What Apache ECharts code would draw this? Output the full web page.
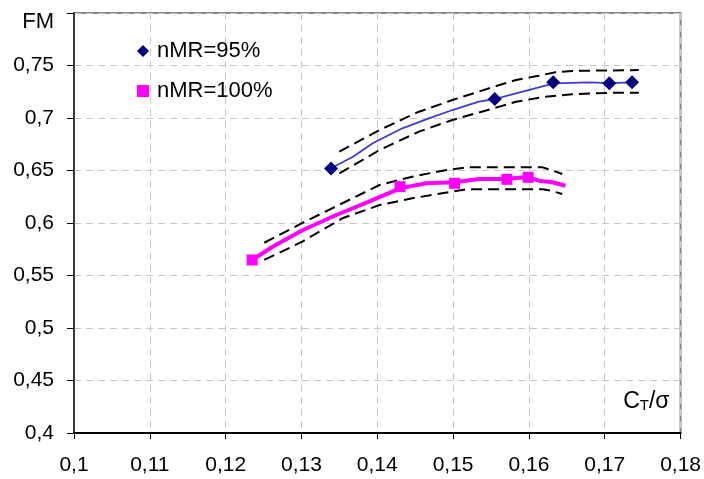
<!DOCTYPE html>
<html>
<head>
<meta charset="utf-8">
<script src="https://cdn.jsdelivr.net/npm/echarts@6/dist/echarts.min.js"></script>
<style>
  html, body { margin: 0; padding: 0; background: #fff; }
  #chart { width: 704px; height: 479px; }
</style>
</head>
<body>
<div id="chart"></div>
<script>
// Axis ranges and ticks
const xMin = 0.1, xMax = 0.18, xStep = 0.01;
const yMin = 0.4, yMax = 0.8, yStep = 0.05;

// nMR = 95 %: measured points, fitted curve and its band
const mr95Points = [[0.1339, 0.652], [0.1555, 0.718], [0.1632, 0.734], [0.1706, 0.733], [0.1736, 0.734]];
const mr95Curve = [
  [0.1339, 0.6521], [0.1368, 0.6631], [0.1394, 0.6759], [0.1433, 0.6902], [0.1468, 0.6997],
  [0.1499, 0.7076], [0.1534, 0.7155], [0.1555, 0.7181], [0.1578, 0.7226], [0.1633, 0.7330],
  [0.1679, 0.7340], [0.1707, 0.7333], [0.1736, 0.7340]
];
const mr95Upper = [
  [0.1350, 0.6679], [0.1403, 0.6886], [0.1455, 0.7060], [0.1499, 0.7171], [0.1561, 0.7314],
  [0.1583, 0.7362], [0.1613, 0.7403], [0.1635, 0.7435], [0.1657, 0.7448], [0.1745, 0.7457]
];
const mr95Lower = [
  [0.1350, 0.6473], [0.1403, 0.6695], [0.1455, 0.6870], [0.1499, 0.6981], [0.1561, 0.7108],
  [0.1583, 0.7155], [0.1622, 0.7203], [0.1657, 0.7226], [0.1710, 0.7241], [0.1745, 0.7241]
];

// nMR = 100 %: measured points, fitted curve and its band
const mr100Points = [[0.1235, 0.5648], [0.1430, 0.6346], [0.1502, 0.6378], [0.1571, 0.6416], [0.1599, 0.6435]];
const mr100Curve = [
  [0.1235, 0.5648], [0.1262, 0.5774], [0.1302, 0.5933], [0.1346, 0.6076], [0.1389, 0.6203],
  [0.1430, 0.6330], [0.1464, 0.6378], [0.1501, 0.6388], [0.1534, 0.6419], [0.1569, 0.6419],
  [0.1598, 0.6438], [0.1613, 0.6403], [0.1631, 0.6388], [0.1648, 0.6355]
];
const mr100Upper = [
  [0.1251, 0.5812], [0.1301, 0.6000], [0.1354, 0.6188], [0.1403, 0.6362], [0.1446, 0.6441],
  [0.1486, 0.6498], [0.1517, 0.6530], [0.1618, 0.6530], [0.1629, 0.6505], [0.1644, 0.6467]
];
const mr100Lower = [
  [0.1251, 0.5648], [0.1301, 0.5822], [0.1354, 0.6045], [0.1403, 0.6171], [0.1446, 0.6235],
  [0.1517, 0.6321], [0.1618, 0.6321], [0.1629, 0.6308], [0.1644, 0.6276]
];

const seriesNames = ['nMR=95%', 'nMR=100%'];

const FONT = 'Liberation Sans, Arial, sans-serif';
const comma = v => String(+v.toFixed(3)).replace('.', ',');

const bandStyle = { color: '#000', width: 2, type: [11, 6] };

function curve(data, color, width) {
  return { type: 'line', data, symbol: 'none', smooth: false, silent: true, z: 3,
           lineStyle: { color, width }, tooltip: { show: false } };
}
function band(data) {
  return { type: 'line', data, symbol: 'none', silent: true, z: 2, lineStyle: bandStyle };
}

const chart = echarts.init(document.getElementById('chart'), null, { renderer: 'canvas' });
chart.setOption({
  animation: false,
  backgroundColor: '#fff',
  textStyle: { fontFamily: FONT },
  grid: { left: 74, right: 21, top: 13, bottom: 46, show: true, borderColor: '#858585', borderWidth: 2 },
  legend: {
    data: [{ name: seriesNames[0], icon: 'diamond' }, { name: seriesNames[1], icon: 'rect' }],
    orient: 'vertical', left: 132, top: 35, itemWidth: 12, itemHeight: 12, itemGap: 18,
    textStyle: { fontFamily: FONT, fontSize: 22, color: '#000', padding: [0, 0, 0, 3] }
  },
  xAxis: {
    type: 'value', min: xMin, max: xMax, interval: xStep,
    name: '{c|C}{t|T}{c|/σ}', nameLocation: 'end', nameGap: -11,
    nameTextStyle: {
      align: 'right', verticalAlign: 'bottom', padding: [0, 0, 20, 0],
      rich: {
        c: { fontFamily: FONT, fontSize: 23, color: '#000' },
        t: { fontFamily: FONT, fontSize: 15, color: '#000', verticalAlign: 'bottom', padding: [8, 0, 0, 0] }
      }
    },
    axisLine: { lineStyle: { color: '#000', width: 2 } },
    axisTick: { show: true, inside: false, length: 6, lineStyle: { color: '#000', width: 1 } },
    axisLabel: { fontFamily: FONT, fontSize: 21, color: '#000', margin: 22, formatter: comma },
    splitLine: { show: true, lineStyle: { color: '#c8c8c8', width: 1, type: [7, 5] } }
  },
  yAxis: {
    type: 'value', min: yMin, max: yMax, interval: yStep,
    name: 'FM', nameLocation: 'end', nameGap: -9,
    nameTextStyle: { fontFamily: FONT, fontSize: 22, color: '#000', align: 'right', verticalAlign: 'middle', padding: [0, 20, 0, 0] },
    axisLine: { lineStyle: { color: '#3a3a3a', width: 2 } },
    axisTick: { show: true, inside: false, length: 7, lineStyle: { color: '#000', width: 1 } },
    axisLabel: {
      fontFamily: FONT, fontSize: 21, color: '#000', margin: 20,
      formatter: v => (Math.abs(v - yMax) < 1e-9 ? '' : comma(v))
    },
    splitLine: { show: true, lineStyle: { color: '#c8c8c8', width: 1, type: [7, 5] } }
  },
  series: [
    band(mr95Upper), band(mr95Lower),
    band(mr100Upper), band(mr100Lower),
    curve(mr95Curve, '#3c3cd4', 1.8),
    curve(mr100Curve, '#ff00ff', 4),
    {
      name: seriesNames[0], type: 'scatter', data: mr95Points, symbol: 'diamond', symbolSize: 14, z: 5,
      itemStyle: { color: '#000080', opacity: 1 }
    },
    {
      name: seriesNames[1], type: 'scatter', data: mr100Points, symbol: 'rect', symbolSize: 11, z: 5,
      itemStyle: { color: '#ff00ff', opacity: 1 }
    }
  ]
});
</script>
</body>
</html>
